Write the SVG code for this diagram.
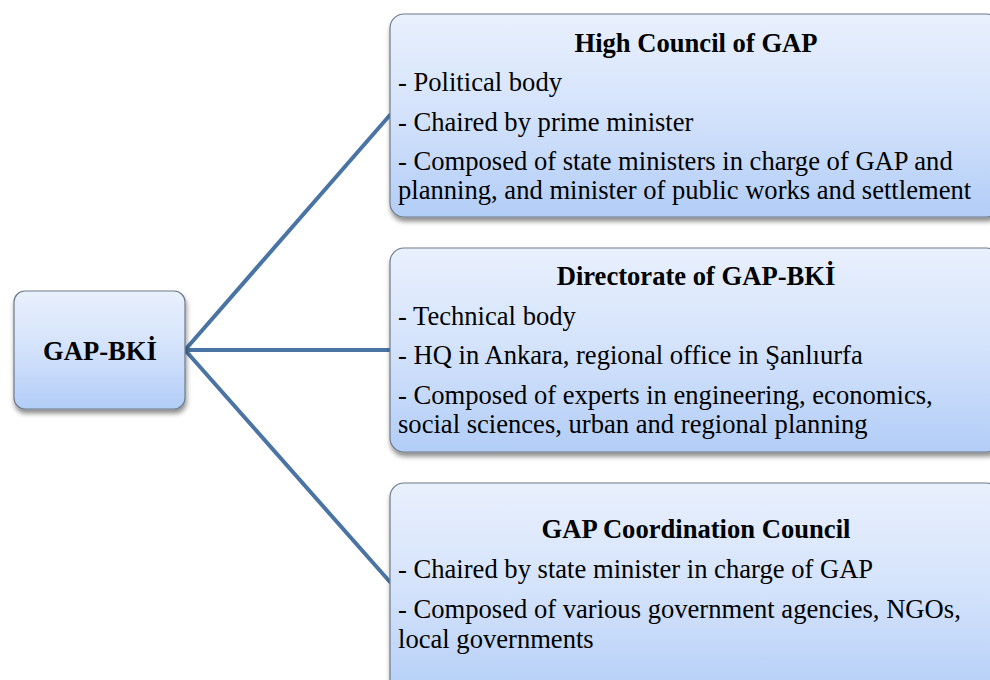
<svg xmlns="http://www.w3.org/2000/svg" width="990" height="680" viewBox="0 0 990 680">
  <defs>
    <linearGradient id="boxFill" x1="0" y1="0" x2="0" y2="1">
      <stop offset="0" stop-color="#e9f0fd"/>
      <stop offset="0.5" stop-color="#d3e2fb"/>
      <stop offset="1" stop-color="#b2cdf7"/>
    </linearGradient>
    <filter id="shadow" x="-10%" y="-10%" width="120%" height="130%">
      <feGaussianBlur in="SourceAlpha" stdDeviation="2.5"/>
      <feOffset dx="1" dy="4" result="b"/>
      <feComponentTransfer><feFuncA type="linear" slope="0.45"/></feComponentTransfer>
      <feMerge><feMergeNode/><feMergeNode in="SourceGraphic"/></feMerge>
    </filter>
  </defs>
  <style>
    .box { fill: url(#boxFill); stroke: #6e7a8a; stroke-width: 1.2; filter: url(#shadow); }
    text { font-family: "Liberation Serif", "Times New Roman", serif; font-size: 26.6px; fill: #000; }
    .title { font-weight: bold; text-anchor: middle; }
    .link { fill: none; stroke: #4a74a4; stroke-width: 4; stroke-linecap: round; }
  </style>

  <rect width="990" height="680" fill="#ffffff"/>

  <g id="connectors">
    <line class="link" x1="185" y1="350" x2="390" y2="115"/>
    <line class="link" x1="185" y1="350" x2="390" y2="350"/>
    <line class="link" x1="185" y1="350" x2="390" y2="582"/>
  </g>

  <g id="node-gap-bki">
    <rect class="box" x="14" y="291" width="171" height="118" rx="11"/>
    <text class="title" x="100" y="360">GAP-BKİ</text>
  </g>

  <g id="node-high-council">
    <rect class="box" x="390" y="14" width="610" height="203" rx="14"/>
    <text class="title" x="696" y="52">High Council of GAP</text>
    <text x="398" y="91">- Political body</text>
    <text x="398" y="131">- Chaired by prime minister</text>
    <text x="398" y="170">- Composed of state ministers in charge of GAP and</text>
    <text x="398" y="199">planning, and minister of public works and settlement</text>
  </g>

  <g id="node-directorate">
    <rect class="box" x="390" y="248" width="610" height="204" rx="14"/>
    <text class="title" x="696" y="285">Directorate of GAP-BKİ</text>
    <text x="398" y="325">- Technical body</text>
    <text x="398" y="364">- HQ in Ankara, regional office in Şanlıurfa</text>
    <text x="398" y="404">- Composed of experts in engineering, economics,</text>
    <text x="398" y="433">social sciences, urban and regional planning</text>
  </g>

  <g id="node-coordination">
    <rect class="box" x="390" y="483" width="610" height="220" rx="14"/>
    <text class="title" x="696" y="538">GAP Coordination Council</text>
    <text x="398" y="578">- Chaired by state minister in charge of GAP</text>
    <text x="398" y="618">- Composed of various government agencies, NGOs,</text>
    <text x="398" y="648">local governments</text>
  </g>
</svg>
